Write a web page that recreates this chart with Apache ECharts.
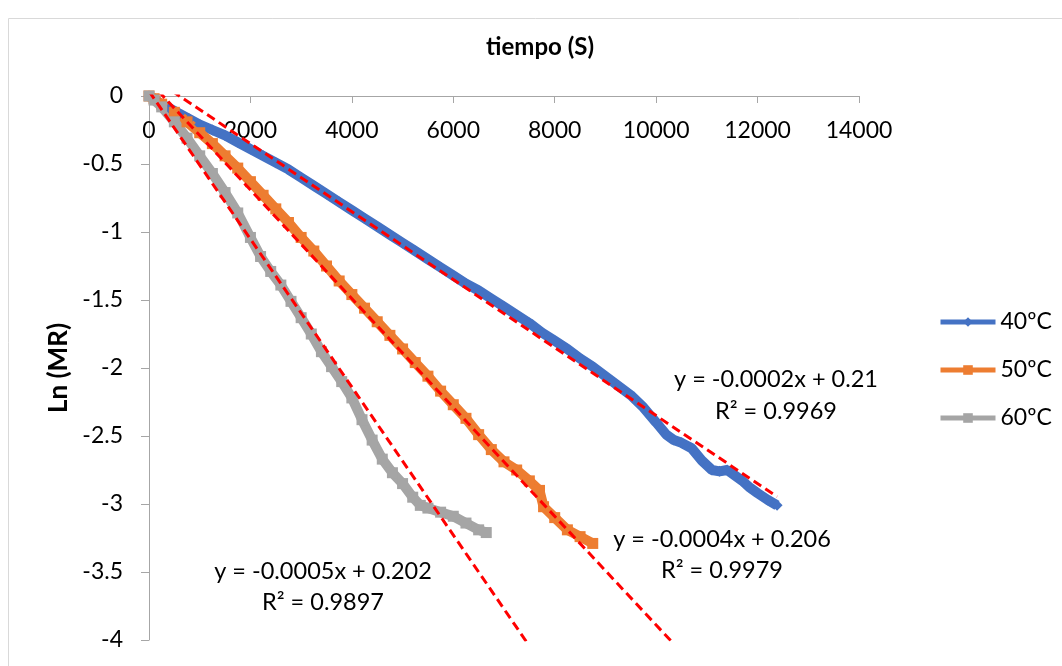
<!DOCTYPE html>
<html>
<head>
<meta charset="utf-8">
<script src="https://cdn.jsdelivr.net/npm/echarts@6/dist/echarts.min.js"></script>
<style>
html,body{margin:0;padding:0;background:#fff;}
#chart{width:1062px;height:666px;}
</style>
</head>
<body>
<div id="chart"></div>
<script>
// ---- data ----
var seriesNames = ['40ºC', '50ºC', '60ºC'];

var t40 = [0,100,200,400,600,800,1000,1250,1500,1750,2000,2250,2500,2750,3000,3250,3500,3750,4000,4250,4500,4750,5000,5250,5500,5750,6000,6250,6500,6750,7000,7250,7500,7750,8000,8250,8500,8750,9000,9250,9500,9750,10000,10200,10350,10500,10700,10900,11100,11250,11400,11550,11700,11850,12000,12200,12384];
var ln40 = [0,-0.02,-0.05,-0.09,-0.13,-0.17,-0.21,-0.25,-0.29,-0.34,-0.39,-0.44,-0.49,-0.54,-0.60,-0.66,-0.72,-0.78,-0.84,-0.90,-0.96,-1.02,-1.08,-1.14,-1.20,-1.26,-1.32,-1.38,-1.43,-1.49,-1.55,-1.61,-1.67,-1.74,-1.80,-1.86,-1.93,-1.99,-2.06,-2.13,-2.20,-2.29,-2.40,-2.49,-2.53,-2.55,-2.59,-2.68,-2.75,-2.76,-2.75,-2.79,-2.83,-2.88,-2.92,-2.97,-3.01];

var t50 = [0,100,250,500,750,1000,1250,1500,1750,2000,2250,2500,2750,3000,3250,3500,3750,4000,4250,4500,4750,5000,5250,5500,5750,6000,6250,6500,6750,7000,7250,7500,7700,7780,8000,8250,8500,8750];
var ln50 = [0,-0.02,-0.06,-0.12,-0.19,-0.27,-0.35,-0.44,-0.53,-0.63,-0.73,-0.83,-0.93,-1.04,-1.14,-1.25,-1.36,-1.46,-1.56,-1.66,-1.76,-1.86,-1.96,-2.06,-2.17,-2.27,-2.37,-2.49,-2.60,-2.69,-2.75,-2.83,-2.90,-3.02,-3.10,-3.19,-3.24,-3.29];

var t60 = [0,100,250,500,750,1000,1250,1500,1750,2000,2200,2400,2600,2800,3000,3200,3400,3600,3800,4000,4200,4400,4600,4800,5000,5200,5350,5500,5750,6000,6250,6500,6650];
var ln60 = [0,-0.03,-0.08,-0.19,-0.31,-0.44,-0.57,-0.71,-0.86,-1.04,-1.18,-1.29,-1.39,-1.51,-1.63,-1.75,-1.88,-1.99,-2.10,-2.22,-2.38,-2.53,-2.67,-2.77,-2.85,-2.95,-3.01,-3.03,-3.06,-3.09,-3.14,-3.19,-3.21];

// linear trendlines as drawn in the picture
var trendSlope = [-0.00025, -0.000400, -0.000544];
var trendIntercept = [0.15, 0.11, 0.036];
var trendFrom = [0, 0, 0];
var trendTo = [12384, 10600, 7600];

var eqTexts = ['y = -0.0002x + 0.21', 'y = -0.0004x + 0.206', 'y = -0.0005x + 0.202'];
var r2Texts = ['R² = 0.9969', 'R² = 0.9979', 'R² = 0.9897'];

var xTicks = {min: 0, max: 14000, interval: 2000};
var yTicks = {min: -4, max: 0, interval: 0.5};

// ---- build ----
function pairs(xs, ys){ return xs.map(function(x,i){ return [x, ys[i]]; }); }
var colors = ['#4472C4', '#ED7D31', '#A5A5A5'];
var symbols = ['diamond', 'rect', 'rect'];
var dataSets = [pairs(t40, ln40), pairs(t50, ln50), pairs(t60, ln60)];

var FONT = 'Lato';
var series = [];
dataSets.forEach(function(d, i){
  series.push({
    name: seriesNames[i], type: 'line', data: d,
    showAllSymbol: true, symbol: symbols[i], symbolSize: 11,
    lineStyle: {color: colors[i], width: 10},
    itemStyle: {color: colors[i], borderWidth: 0},
    emphasis: {disabled: true}, silent: true, z: 2, animation: false
  });
});
for (var k = 0; k < 3; k++){
  var tr = [trendFrom[k], trendTo[k]].map(function(x){ return [x, trendIntercept[k] + trendSlope[k]*x]; });
  series.push({
    name: 'trend' + k, type: 'line', data: tr, symbol: 'none',
    lineStyle: {color: '#FF0000', width: 3, type: [9, 5]},
    silent: true, z: 5, animation: false, clip: true
  });
}

var eqPos = [[776, 379, 411], [722, 539, 570], [323, 571, 602]];
var graphics = [
  {type: 'rect', shape: {x: 8.5, y: 18.5, width: 1060, height: 660}, style: {fill: 'none', stroke: '#d9d9d9', lineWidth: 1}, silent: true},
  {type: 'text', x: 540, y: 47, style: {text: 'tiempo (S)', font: 'bold 24px ' + FONT, fill: '#000', textAlign: 'center', textVerticalAlign: 'middle'}, silent: true}
];
for (var j = 0; j < 3; j++){
  graphics.push({type: 'text', x: eqPos[j][0], y: eqPos[j][1], z: 10, style: {text: eqTexts[j], font: '23.5px ' + FONT, fill: '#000', textAlign: 'center', textVerticalAlign: 'middle'}, silent: true});
  graphics.push({type: 'text', x: eqPos[j][0], y: eqPos[j][2], z: 10, style: {text: r2Texts[j], font: '23.5px ' + FONT, fill: '#000', textAlign: 'center', textVerticalAlign: 'middle'}, silent: true});
}

var chart = echarts.init(document.getElementById('chart'), null, {renderer: 'canvas'});
chart.setOption({
  animation: false,
  textStyle: {fontFamily: FONT},
  grid: {left: 149, top: 96, width: 710, height: 544, containLabel: false},
  xAxis: {
    type: 'value', position: 'top', min: xTicks.min, max: xTicks.max, interval: xTicks.interval,
    axisLine: {show: true, onZero: false, lineStyle: {color: '#a6a6a6', width: 1}},
    axisTick: {show: true, inside: true, length: 7, lineStyle: {color: '#a6a6a6'}},
    axisLabel: {inside: true, margin: 23, fontSize: 23, color: '#000', fontFamily: FONT,
      formatter: function(v){ return String(v); }},
    splitLine: {show: false}
  },
  yAxis: {
    type: 'value', min: yTicks.min, max: yTicks.max, interval: yTicks.interval,
    name: 'Ln (MR)', nameLocation: 'middle', nameGap: 66, nameRotate: 90,
    nameTextStyle: {fontSize: 26, fontWeight: 'bold', color: '#000', fontFamily: FONT},
    axisLine: {show: true, lineStyle: {color: '#a6a6a6', width: 1}},
    axisTick: {show: true, inside: false, length: 8, lineStyle: {color: '#a6a6a6'}},
    axisLabel: {margin: 26, fontSize: 23, color: '#000', fontFamily: FONT},
    splitLine: {show: false}
  },
  legend: {
    data: seriesNames, orient: 'vertical', left: 933, top: 305,
    itemWidth: 55, itemHeight: 12, itemGap: 24,
    lineStyle: {width: 5},
    textStyle: {fontSize: 23, color: '#000', fontFamily: FONT, lineHeight: 24},
    selectedMode: false
  },
  graphic: graphics,
  series: series
});
</script>
</body>
</html>
